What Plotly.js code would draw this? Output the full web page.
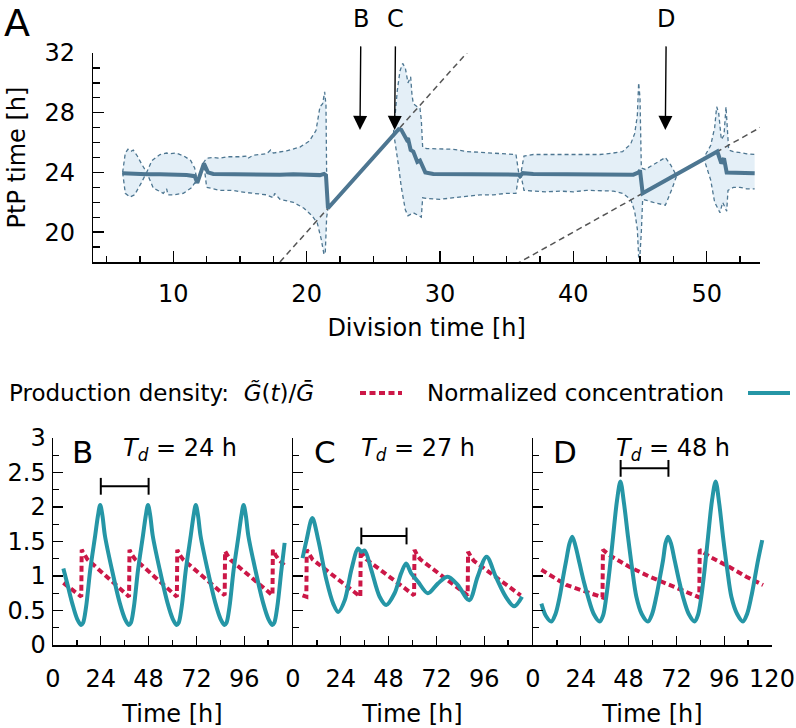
<!DOCTYPE html>
<html>
<head>
<meta charset="utf-8">
<script src="https://cdn.plot.ly/plotly-3.0.1.min.js"></script>
<style>html,body{margin:0;padding:0;background:#fff;}#chart{width:796px;height:728px;}</style>
</head>
<body>
<div id="chart"></div>
<script>
// ---------- Panel A: peak-to-peak time vs division time ----------
const meanX = [6.2,7,8,9,10,11,11.6,11.8,12.3,12.6,13,14,15,16,17,18,19,20,21,21.3,21.45,21.6,26.9,27.1,27.3,27.5,27.6,27.8,28.0,28.3,28.5,28.7,28.9,29.5,31,33,35,35.9,36.0,36.2,37,39,41,43,44.5,44.9,45.0,45.2,48,48.3,48.5,50.8,51.1,51.3,51.5,52,53,53.6];
const meanY = [23.95,23.9,23.88,23.87,23.85,23.82,23.75,23.3,24.6,24.0,23.9,23.88,23.9,23.87,23.88,23.85,23.87,23.85,23.82,23.9,23.8,21.6,26.9,26.85,26.5,26.2,26.3,25.5,25.4,24.7,24.8,24.4,24.0,23.9,23.9,23.88,23.9,23.85,23.75,23.95,23.9,23.9,23.88,23.9,23.85,24.0,24.15,22.6,24.0,24.15,24.25,25.4,24.6,24.95,24.0,24.0,23.95,23.95];

const upX = [6.2,6.4,6.6,6.8,7.0,7.3,7.6,8.0,8.4,9.0,9.5,9.75,10.2,10.8,11.3,11.6,11.8,12.3,12.5,13,13.5,14,15,15.5,15.6,16,17,17.3,17.5,18.5,19.5,20.2,20.7,21.0,21.2,21.35,21.45,21.5,21.6,26.5,26.8,27.0,27.2,27.4,27.6,27.8,27.9,28.0,28.3,28.5,28.6,28.7,29,30,31,32,33,34,35,35.7,35.9,36.1,36.3,37,38,39,40,41,42,43,43.7,44.3,44.6,44.8,44.9,45.0,45.1,45.4,46.2,46.9,47.3,47.7,48,49.7,50.3,50.6,50.75,50.9,51.1,51.3,51.45,51.55,51.65,52,52.5,53,53.6];
const upY = [24.0,25.3,25.55,25.4,25.5,25.1,24.6,24.0,24.8,25.2,25.3,25.25,25.3,25.1,24.8,24.3,23.4,24.7,24.95,25.0,24.95,25.05,25.05,25.1,24.95,25.15,25.25,25.5,25.3,25.45,25.7,26.1,26.8,28.4,28.6,29.4,28.5,23.8,21.6,26.5,29.5,30.8,31.3,31.0,30.0,30.4,29.2,28.6,28.4,28.3,27.5,25.7,25.6,25.6,25.55,25.4,25.35,25.3,25.25,25.2,24.0,24.1,25.1,25.2,25.2,25.2,25.2,25.25,25.2,25.3,25.4,25.9,26.6,27.8,30.0,29.0,24.3,24.2,24.6,25.0,24.5,23.85,24.0,24.85,25.8,27.0,28.4,28.0,26.2,26.5,28.4,27.0,25.5,25.4,25.3,25.25,25.2];

const lowX = [6.2,6.4,6.75,7.1,7.6,8.0,8.5,9.25,9.5,9.6,10.0,10.75,11.4,11.6,11.8,12.3,12.5,13.5,14.5,15,16,17,17.5,17.6,18,19,19.8,20.4,20.8,21.1,21.3,21.4,21.5,21.6,26.5,26.6,26.9,27.1,27.4,27.6,28.0,28.4,28.6,28.7,29,30,31,32,33,34,35,35.7,35.9,36.1,36.3,37,38,39,40,41,42,43,43.7,44.3,44.6,44.8,44.9,45.0,45.1,45.2,46,46.9,47.4,47.8,48,49.8,50.3,50.6,51.0,51.2,51.5,51.6,52,52.5,53,53.6];
const lowY = [24.0,22.6,22.35,22.5,23.3,24.0,22.95,22.6,22.9,22.5,22.5,22.6,23.0,23.3,23.2,24.5,23.0,22.8,22.8,22.7,22.6,22.5,22.3,22.6,22.2,22.0,21.6,21.1,20.6,19.5,18.5,18.7,21.0,21.6,26.5,26.2,24.4,23.0,21.5,21.1,21.3,21.1,21.0,22.3,22.25,22.2,22.3,22.35,22.5,22.5,22.6,22.6,23.8,23.7,22.8,22.75,22.7,22.75,22.7,22.8,22.75,22.75,22.6,22.2,21.4,20.2,18.3,18.5,20.0,22.2,22.0,21.8,22.9,23.9,24.0,24.9,23.5,22.0,21.3,22.0,21.4,22.8,23.0,23.0,22.9,22.9];

// reference lines y = x and y = x/2
const diag1X = [17, 33];   const diag1Y = [17, 33];
const diag2X = [35, 55];   const diag2Y = [17.5, 27.5];

// arrows marking the cases B, C, D
const arrowLabels = ['B', 'C', 'D'];
const arrowX = [24, 26.6, 46.9];
const arrowTipY = 26.85;

// ---------- Panel B: Td = 24 h ----------
const bTealX = [5.2,7.5,9.7,12.1,14.1,15.1,16.6,18.7,21.2,22.6,23.7,24.8,26.1,29.6,33.5,36.1,38.1,39.1,40.6,42.7,45.2,46.6,47.7,48.8,50.1,53.6,57.5,60.1,62.1,63.1,64.6,66.7,69.2,70.6,71.7,72.8,74.1,77.6,81.5,84.1,86.1,87.1,88.6,90.7,93.2,94.6,95.7,96.8,98.1,101.6,105.5,108.1,110.1,111.1,112.6,114.7,116.3];
const bTealY = [1.11,0.85,0.60,0.38,0.29,0.32,0.55,1.09,1.59,1.88,2.03,1.88,1.58,1.09,0.61,0.38,0.29,0.32,0.55,1.09,1.59,1.88,2.03,1.88,1.58,1.09,0.61,0.38,0.29,0.32,0.55,1.09,1.59,1.88,2.03,1.88,1.58,1.09,0.61,0.38,0.29,0.32,0.55,1.09,1.59,1.88,2.03,1.88,1.58,1.09,0.61,0.38,0.29,0.32,0.55,1.09,1.48];
const bRedX = [5.2,14.2,14.4,15.8,17.3,38.2,38.4,39.8,41.3,62.2,62.4,63.8,65.3,86.2,86.4,87.8,89.3,110.2,110.4,111.8,113.3,117];
const bRedY = [0.90,0.70,1.38,1.30,1.24,0.70,1.38,1.30,1.24,0.70,1.38,1.30,1.24,0.72,1.36,1.29,1.23,0.72,1.38,1.30,1.24,1.13];
const bBarX = [24, 48];  const bBarY = [2.3, 2.3];

// ---------- Panel C: Td = 27 h ----------
const cTealX = [4.8,6.8,9.7,12.7,16.8,20.2,22.7,26,29.3,32.7,34.3,36,39.3,43.5,46.8,51,54.3,56.8,59.3,62.7,67.7,72.7,77.7,82.7,88.5,92.7,97.2,101.8,106.8,111,115];
const cTealY = [1.26,1.52,1.84,1.52,0.94,0.60,0.48,0.65,1.09,1.40,1.35,1.37,1.09,0.70,0.58,0.75,1.04,1.18,1.04,0.92,0.75,0.89,0.99,0.87,0.65,0.99,1.28,0.99,0.70,0.56,0.70];
const cRedX = [4.8,6.7,6.9,8.3,9.8,33.8,34.0,35.4,36.9,60.8,61.0,62.4,63.9,87.7,87.9,89.3,90.8,114.3];
const cRedY = [0.72,0.70,1.38,1.30,1.24,0.70,1.38,1.30,1.24,0.72,1.38,1.30,1.24,0.72,1.35,1.28,1.22,0.72];
const cBarX = [34.3, 57];  const cBarY = [1.58, 1.58];

// ---------- Panel D: Td = 48 h ----------
const dTealX = [4.2,6.5,9.2,11.3,13.4,15.1,16.7,18.3,19.7,21.2,23.4,25.5,27.6,30.5,33.5,35.2,36.8,38.5,40.2,42.2,43.9,45.7,47.7,49.8,51.9,54.6,57.7,59.8,61.9,63.6,65.3,66.6,67.8,69.3,71.1,73.2,75.3,78.2,81.2,82.9,84.5,86.2,87.9,89.9,91.7,93.5,95.4,97.5,99.6,102.5,105.4,107.5,109.6,111.3,113,115.1];
const dTealY = [0.60,0.42,0.34,0.45,0.70,0.98,1.23,1.47,1.57,1.45,1.18,0.92,0.70,0.45,0.34,0.43,0.70,1.10,1.57,2.10,2.37,2.05,1.57,1.10,0.70,0.45,0.34,0.45,0.70,0.96,1.23,1.48,1.57,1.47,1.23,0.95,0.70,0.45,0.34,0.44,0.70,1.10,1.57,2.10,2.37,2.05,1.57,1.10,0.70,0.45,0.34,0.45,0.70,0.96,1.23,1.52];
const dRedX = [4.2,16.7,26.8,34.9,35.1,38.5,48.5,58.6,70.3,83.5,83.7,88.7,98.7,107.1,115.5];
const dRedY = [1.09,0.87,0.77,0.69,1.38,1.30,1.13,0.99,0.85,0.69,1.38,1.28,1.13,0.99,0.87];
const dBarX = [44, 68];  const dBarY = [2.56, 2.56];

// tick labels
const ticksA_y = [20, 24, 28, 32];
const ticksB_x = [0, 24, 48, 72, 96];
const ticksD_x = [0, 24, 48, 72, 96, 120];

// ---------- styling ----------
const FONT = 'DejaVu Sans';
const W = 796, H = 728;
const fx = p => p / W;
const fy = p => 1 - p / H;
const MEAN_C = '#4d7691', FILL_C = 'rgba(214,230,242,0.65)';
const TEAL = '#2596a6', RED = '#cc1747';

const bandX = upX.concat(lowX.slice().reverse());
const bandY = upY.concat(lowY.slice().reverse());

const traces = [
  {x: bandX, y: bandY, xaxis:'x', yaxis:'y', mode:'lines', fill:'toself', fillcolor:FILL_C, line:{width:0}},
  {x: upX, y: upY, xaxis:'x', yaxis:'y', mode:'lines', line:{color:MEAN_C, width:1.3, dash:'4px,3px'}},
  {x: lowX, y: lowY, xaxis:'x', yaxis:'y', mode:'lines', line:{color:MEAN_C, width:1.3, dash:'4px,3px'}},
  {x: diag1X, y: diag1Y, xaxis:'x', yaxis:'y', mode:'lines', line:{color:'#555', width:1.5, dash:'6px,4px'}},
  {x: diag2X, y: diag2Y, xaxis:'x', yaxis:'y', mode:'lines', line:{color:'#555', width:1.5, dash:'6px,4px'}},
  {x: meanX, y: meanY, xaxis:'x', yaxis:'y', mode:'lines', line:{color:MEAN_C, width:4}},

  {x: bRedX, y: bRedY, xaxis:'x2', yaxis:'y2', mode:'lines', line:{color:RED, width:4, dash:'6px,3.5px'}},
  {x: bTealX, y: bTealY, xaxis:'x2', yaxis:'y2', mode:'lines', line:{color:TEAL, width:4, shape:'spline', smoothing:0.9}},
  {x: bBarX, y: bBarY, xaxis:'x2', yaxis:'y2', mode:'lines+markers', line:{color:'#000', width:2}, marker:{symbol:'line-ns-open', size:12, line:{color:'#000', width:2}}},

  {x: cRedX, y: cRedY, xaxis:'x3', yaxis:'y3', mode:'lines', line:{color:RED, width:4, dash:'6px,3.5px'}},
  {x: cTealX, y: cTealY, xaxis:'x3', yaxis:'y3', mode:'lines', line:{color:TEAL, width:4, shape:'spline', smoothing:0.9}},
  {x: cBarX, y: cBarY, xaxis:'x3', yaxis:'y3', mode:'lines+markers', line:{color:'#000', width:2}, marker:{symbol:'line-ns-open', size:12, line:{color:'#000', width:2}}},

  {x: dRedX, y: dRedY, xaxis:'x4', yaxis:'y4', mode:'lines', line:{color:RED, width:4, dash:'6px,3.5px'}},
  {x: dTealX, y: dTealY, xaxis:'x4', yaxis:'y4', mode:'lines', line:{color:TEAL, width:4, shape:'spline', smoothing:0.9}},
  {x: dBarX, y: dBarY, xaxis:'x4', yaxis:'y4', mode:'lines+markers', line:{color:'#000', width:2}, marker:{symbol:'line-ns-open', size:12, line:{color:'#000', width:2}}}
];
traces.forEach(t => { t.showlegend = false; t.hoverinfo = 'skip'; });

const baseAxis = {
  showline:true, linecolor:'#000', linewidth:1.5, mirror:false,
  ticks:'inside', tickcolor:'#000', tickwidth:1.3,
  showgrid:false, zeroline:false,
  tickfont:{family:FONT, size:24, color:'#000'}
};
const minorStyle = {ticks:'inside', tickcolor:'#000', tickwidth:1.3};

const bottomDomY = [fy(645), fy(438)];
function bottomX(dom, vals, anchor) {
  return Object.assign({}, baseAxis, {
    domain: dom, anchor: anchor, range:[0,120],
    tickmode:'array', tickvals: vals, ticklen:9, ticklabelstandoff:12,
    minor: Object.assign({dtick:12, tick0:0, ticklen:5}, minorStyle),
    title:{text:'Time [h]', font:{family:FONT, size:24, color:'#000'}, standoff:14}
  });
}
function bottomY(anchor, showLabels) {
  return Object.assign({}, baseAxis, {
    domain: bottomDomY, anchor: anchor, range:[0,3],
    dtick:0.5, tick0:0, ticklen:10, showticklabels: showLabels, ticklabelstandoff:1,
    minor: Object.assign({dtick:0.25, tick0:0, ticklen:6}, minorStyle)
  });
}

const layout = {
  width:W, height:H,
  margin:{l:0, r:0, t:0, b:0},
  paper_bgcolor:'#fff', plot_bgcolor:'rgba(0,0,0,0)',
  font:{family:FONT, size:24, color:'#000'},
  showlegend:false,
  xaxis: Object.assign({}, baseAxis, {
    domain:[fx(93.3), fx(760)], anchor:'y', range:[4,54],
    dtick:10, tick0:0, ticklen:11, ticklabelstandoff:10,
    minor: Object.assign({dtick:2.5, tick0:0, ticklen:6}, minorStyle),
    title:{text:'Division time [h]', font:{family:FONT, size:24, color:'#000'}, standoff:12}
  }),
  yaxis: Object.assign({}, baseAxis, {
    domain:[fy(262), fy(53)], anchor:'x', range:[18,32],
    tickmode:'array', tickvals: ticksA_y, ticklen:11, ticklabelstandoff:12,
    minor: Object.assign({dtick:1, tick0:0, ticklen:7}, minorStyle),
    title:{text:'PtP time [h]', font:{family:FONT, size:24, color:'#000'}, standoff:12}
  }),
  xaxis2: bottomX([fx(53), fx(292)], ticksB_x, 'y2'),
  yaxis2: bottomY('x2', true),
  xaxis3: bottomX([fx(293), fx(532)], ticksB_x, 'y3'),
  yaxis3: bottomY('x3', false),
  xaxis4: bottomX([fx(533), fx(772)], ticksD_x, 'y4'),
  yaxis4: bottomY('x4', false),
  annotations: [],
  shapes: []
};

const ann = layout.annotations;
function txt(text, px, py, size, xanchor) {
  ann.push({xref:'paper', yref:'paper', x:fx(px), y:fy(py), text:text, showarrow:false,
            xanchor:xanchor || 'center', yanchor:'middle', font:{family:FONT, size:size, color:'#000'}});
}
// panel letter A
txt('A', 17, 23, 38);
// arrows with their labels in panel A: label sits at the arrow tail, ~111 px above the tip
arrowLabels.forEach((lab, i) => {
  ann.push({xref:'x', yref:'y', x:arrowX[i], y:arrowTipY, ax:1, ay:-111,
            text:lab, font:{family:FONT, size:24, color:'#000'},
            showarrow:true, arrowhead:2, arrowsize:2.0, arrowwidth:1.4, arrowcolor:'#000',
            startstandoff:12});
});
// legend line
txt('Production density:  <i>G\u0303</i>(<i>t</i>)/<i>G\u0304</i>', 7, 393, 23, 'left');
txt('Normalized concentration', 425, 393, 23, 'left');
layout.shapes.push({type:'line', xref:'paper', yref:'paper', x0:fx(360), x1:fx(402), y0:fy(393), y1:fy(393),
                    line:{color:RED, width:4, dash:'6px,3.5px'}});
layout.shapes.push({type:'line', xref:'paper', yref:'paper', x0:fx(748), x1:fx(790), y0:fy(393), y1:fy(393),
                    line:{color:TEAL, width:4}});
// panel letters and Td labels
txt('B', 82, 452, 31); txt('<i>T</i><sub><i>d</i></sub> = 24 h', 180, 449, 24);
txt('C', 325, 452, 31); txt('<i>T</i><sub><i>d</i></sub> = 27 h', 418, 449, 24);
txt('D', 565, 452, 31); txt('<i>T</i><sub><i>d</i></sub> = 48 h', 673, 449, 24);

Plotly.newPlot('chart', traces, layout, {displayModeBar:false, staticPlot:true});
</script>
</body>
</html>
